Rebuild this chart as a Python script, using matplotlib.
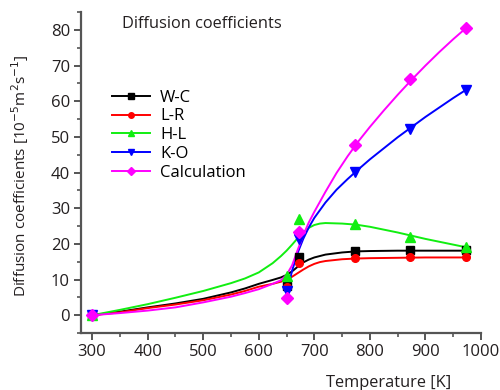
import matplotlib
matplotlib.use("Agg")
import matplotlib.pyplot as plt
from matplotlib.ticker import MultipleLocator

plt.rcParams['font.family'] = ['Open Sans', 'DejaVu Sans']

# measured points
temp_pts = [300, 650, 673, 773, 873, 973]
wc_pts = [0, 8.1, 16.4, 18.0, 18.2, 18.2]
lr_pts = [0, 8.0, 14.6, 16.1, 16.2, 16.2]
hl_pts = [0, 11.0, 27.0, 25.7, 21.9, 19.1]
ko_pts = [0, 6.9, 21.4, 40.2, 52.2, 63.1]
calc_pts = [0, 4.8, 23.2, 47.8, 66.1, 80.5]

# fitted curves
temp_fit = [300, 350, 400, 450, 500, 550, 575, 600, 625, 640, 650, 660, 670, 680,
            690, 700, 710, 720, 750, 775, 800, 850, 900, 950, 975]
wc_fit = [0, 1.0, 2.2, 3.3, 4.6, 6.4, 7.5, 8.8, 9.9, 10.6, 11.3, 12.3, 13.6, 14.8,
          15.6, 16.2, 16.6, 17.0, 17.6, 17.9, 18.0, 18.1, 18.1, 18.1, 18.1]
lr_fit = [0, 0.8, 2.0, 3.0, 4.2, 5.8, 6.8, 8.0, 8.8, 9.4, 10.0, 10.8, 11.8, 12.8,
          13.7, 14.4, 14.9, 15.2, 15.7, 15.9, 16.0, 16.1, 16.2, 16.2, 16.2]
hl_fit = [0, 1.5, 3.1, 4.9, 6.8, 9.0, 10.3, 12.0, 14.6, 16.6, 18.1, 19.8, 21.6, 23.2,
          24.5, 25.3, 25.7, 25.85, 25.7, 25.4, 24.8, 23.2, 21.4, 19.8, 19.0]

temp_calc_fit = [300, 350, 400, 450, 500, 550, 575, 600, 625, 640, 650, 660, 670,
                 680, 690, 700, 720, 740, 760, 780, 800, 825, 850, 875, 900, 925,
                 950, 975]
calc_fit = [0, 0.6, 1.3, 2.2, 3.6, 5.2, 6.2, 7.3, 8.8, 9.8, 11.3, 14.0, 18.3,
            22.4, 26.0, 29.0, 34.6, 39.9, 44.6, 48.9, 52.8, 57.4, 61.8, 66.0,
            70.0, 73.8, 77.4, 80.8]

temp_ko_fit = [650, 660, 670, 680, 690, 700, 720, 740, 760, 780, 800, 850, 900,
               950, 973]
ko_fit = [6.0, 12.5, 17.5, 21.4, 24.6, 27.3, 31.6, 35.2, 38.2, 41.0, 43.7, 49.9,
          55.6, 60.9, 63.2]

fig = plt.figure(figsize=(5, 3.9), dpi=100)
ax = fig.add_axes([0.162, 0.146, 0.8, 0.823])

lw = 1.4
green = '#11ee11'
ax.plot(temp_fit, wc_fit, color='black', lw=lw)
ax.plot(temp_fit, lr_fit, color='red', lw=lw)
ax.plot(temp_fit, hl_fit, color=green, lw=lw)
ax.plot(temp_ko_fit, ko_fit, color='blue', lw=lw)
ax.plot(temp_calc_fit, calc_fit, color='magenta', lw=lw)

ms = 5.5
ax.plot(temp_pts, wc_pts, 's', color='black', ms=ms)
ax.plot(temp_pts, lr_pts, 'o', color='red', ms=ms)
ax.plot(temp_pts, hl_pts, '^', color=green, ms=ms + 1)
ax.plot(temp_pts, ko_pts, 'v', color='blue', ms=ms + 1)
ax.plot(temp_pts, calc_pts, 'D', color='magenta', ms=ms + 1)

# legend handles
handles = [
    plt.Line2D([], [], color='black', marker='s', ms=4, lw=lw),
    plt.Line2D([], [], color='red', marker='o', ms=4, lw=lw),
    plt.Line2D([], [], color=green, marker='^', ms=5, lw=lw),
    plt.Line2D([], [], color='blue', marker='v', ms=5, lw=lw),
    plt.Line2D([], [], color='magenta', marker='D', ms=4, lw=lw),
]
labels = ['W-C', 'L-R', 'H-L', 'K-O', 'Calculation']
ax.legend(handles, labels, loc='upper left', bbox_to_anchor=(0.048, 0.795),
          frameon=False, fontsize=12, handlelength=2.3, handletextpad=0.6,
          labelspacing=0.17, borderpad=0.2)

ax.text(0.1025, 0.962, 'Diffusion coefficients', transform=ax.transAxes,
        fontsize=11.8, va='center', ha='left', color='#231f20')

ax.set_xlim(280, 1000)
ax.set_ylim(-5, 85)
ax.xaxis.set_major_locator(MultipleLocator(100))
ax.xaxis.set_minor_locator(MultipleLocator(50))
ax.yaxis.set_major_locator(MultipleLocator(10))
ax.yaxis.set_minor_locator(MultipleLocator(5))
ax.set_xticks(range(300, 1001, 100))

for s in ['top', 'right']:
    ax.spines[s].set_visible(False)
for s in ['left', 'bottom']:
    ax.spines[s].set_color('#555555')
    ax.spines[s].set_linewidth(1.6)
ax.tick_params(which='major', length=5, width=1.4, color='#555555',
               labelsize=12, labelcolor='#231f20', pad=3)
ax.tick_params(which='minor', length=3, width=1.2, color='#555555')

ax.set_ylabel('Diffusion coefficients [10$^{-5}$m$^{2}$s$^{-1}$]', fontsize=11,
              color='#231f20')
ax.yaxis.set_label_coords(-0.125, 0.49)
ax.set_xlabel('Temperature [K]', fontsize=11.8, color='#231f20')
ax.xaxis.set_label_coords(0.77, -0.13)

fig.savefig('out.png', dpi=100)
